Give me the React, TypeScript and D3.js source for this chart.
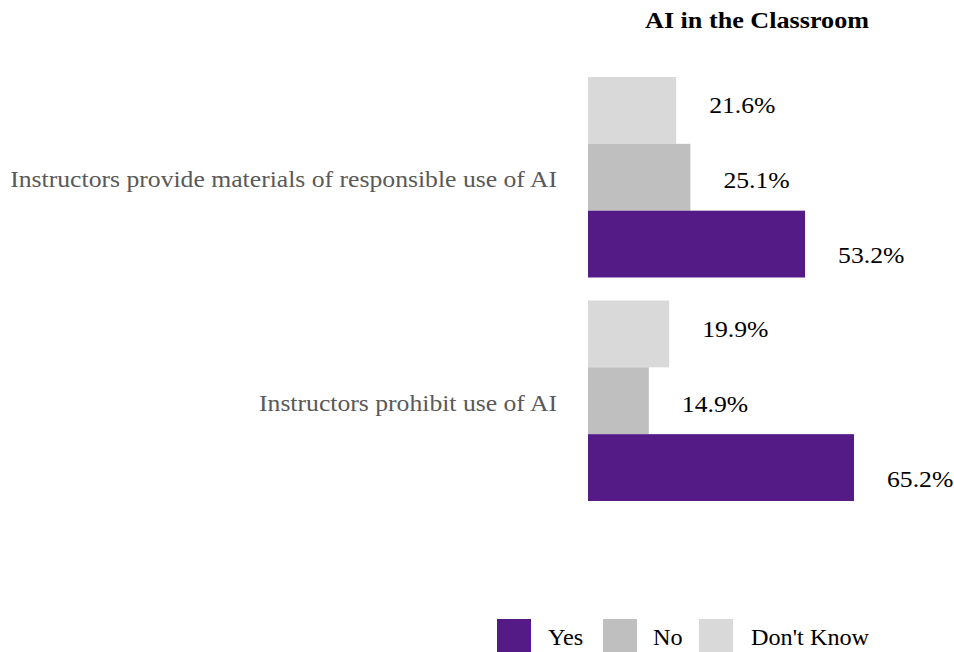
import React from "react";
import * as d3 from "d3";

const title = "AI in the Classroom";
const categories = [
  "Instructors provide materials of responsible use of AI",
  "Instructors prohibit use of AI",
];
const seriesNames = ["Don't Know", "No", "Yes"];
const dontKnow = [21.6, 19.9];
const no = [25.1, 14.9];
const yes = [53.2, 65.2];
const legendOrder = ["Yes", "No", "Don't Know"];
const colors: Record<string, string> = {
  Yes: "#541b87",
  No: "#bfbfbf",
  "Don't Know": "#d9d9d9",
};

const W = 954;
const H = 652;
const FONT = "'Liberation Serif', 'Times New Roman', serif";
const SX = 1.07;

function T(props: {
  x: number;
  y: number;
  anchor?: "start" | "middle" | "end";
  size?: number;
  weight?: string;
  fill?: string;
  sx?: number;
  children: React.ReactNode;
}) {
  const { x, y, anchor = "start", size = 24, weight = "normal", fill = "#000", sx = SX } = props;
  return (
    <text
      transform={`translate(${x},${y}) scale(${sx},1)`}
      textAnchor={anchor}
      fontSize={size}
      fontWeight={weight}
      fill={fill}
    >
      {props.children}
    </text>
  );
}

export default function App() {
  const valuesBySeries: Record<string, number[]> = {
    "Don't Know": dontKnow,
    No: no,
    Yes: yes,
  };
  const x = d3.scaleLinear().domain([0, 100]).range([588, 996]);
  const y0 = d3
    .scaleBand<string>()
    .domain(categories)
    .range([54, 524])
    .paddingInner(0.103)
    .paddingOuter(0.103);
  const y1 = d3
    .scaleBand<string>()
    .domain(seriesNames)
    .range([0, y0.bandwidth()]);

  const legendSwatchX = [497, 603, 699];
  const legendTextX = [548, 653, 751];

  return (
    <svg
      width={W}
      height={H}
      style={{ position: "absolute", left: 0, top: 0, background: "#fff" }}
      fontFamily={FONT}
    >
      <T x={757} y={28} anchor="middle" weight="bold" sx={1.09}>
        {title}
      </T>
      {categories.map((cat, ci) => {
        const gy = y0(cat)!;
        const center = gy + y0.bandwidth() / 2;
        return (
          <g key={cat}>
            <T x={557} y={center + 10} anchor="end" fill="#595959">
              {cat}
            </T>
            {seriesNames.map((s, si) => {
              const v = valuesBySeries[s][ci];
              const by = gy + y1(s)!;
              return (
                <g key={s}>
                  <rect
                    x={x(0)}
                    y={by}
                    width={x(v) - x(0)}
                    height={y1.bandwidth()}
                    fill={colors[s]}
                  />
                  <T x={x(v) + 33} y={center + (si - 1) * 75 + 11}>
                    {v.toFixed(1) + "%"}
                  </T>
                </g>
              );
            })}
          </g>
        );
      })}
      {legendOrder.map((s, i) => (
        <g key={s}>
          <rect x={legendSwatchX[i]} y={619} width={34} height={34} fill={colors[s]} />
          <T x={legendTextX[i]} y={645} sx={1.01}>
            {s}
          </T>
        </g>
      ))}
    </svg>
  );
}
